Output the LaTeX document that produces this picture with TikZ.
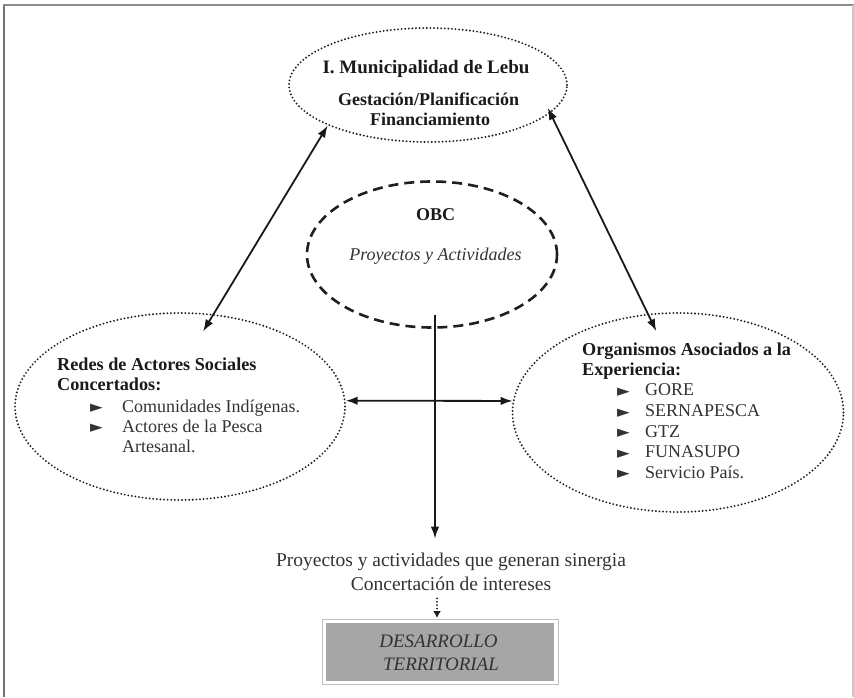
\documentclass[tikz,border=0pt]{standalone}
\usepackage{fontspec}
\setmainfont{Liberation Serif}
\newfontfamily\bulfont{DejaVu Sans}
\usetikzlibrary{arrows.meta,shapes.geometric,calc}
\definecolor{txt}{HTML}{333333}
\definecolor{bld}{HTML}{1A1A1A}
\definecolor{boxgray}{HTML}{A6A6A6}
\newcommand\mybul{{\bulfont\fontsize{16.5}{16}\selectfont\raisebox{-0.5pt}{►}}}
\begin{document}
\begin{tikzpicture}[x=1pt,y=1pt,
  dotline/.style={line width=2.1pt, dash pattern=on 0pt off 3.6pt, line cap=round, draw=black!88},
  oval/.style={ellipse, inner sep=0pt, dotline},
  lbl/.style={inner sep=0pt, anchor=base, text=txt},
  bhead/.style={inner sep=0pt, anchor=base west, text=bld, font=\fontsize{18.2}{20}\selectfont\bfseries},
  item/.style={inner sep=0pt, anchor=base west, text=txt, font=\fontsize{18}{20}\selectfont},
  arr/.style={line width=1.8pt, draw=black!90},
  >={Latex[length=12pt,width=8.5pt]}
]
\useasboundingbox (0,0) rectangle (854,-697);
% frame
\draw[line width=1.6pt, draw=black!55] (4,-697) -- (4,-5);
\draw[line width=2pt, draw=black!45] (3.2,-5) -- (853.5,-5);
\draw[line width=1.5pt, draw=black!22] (852.8,-5) -- (852.8,-697);

% ovals
\node[oval, minimum width=278, minimum height=114] (muni) at (428,-85) {};
\node[ellipse, inner sep=0pt, minimum width=250, minimum height=146, draw=black!88,
      line width=2.6pt, dash pattern=on 10pt off 6pt] (obc) at (432,-254.5) {};
\node[oval, minimum width=330, minimum height=187] (redes) at (180,-406.5) {};
\node[oval, minimum width=331, minimum height=199] (org) at (678,-412.5) {};

% muni texts
\node[lbl, text=bld, font=\fontsize{19}{19}\selectfont\bfseries] (muniA) at (426,-73) {I. Municipalidad de Lebu};
\node[lbl, text=bld, font=\fontsize{18}{18}\selectfont\bfseries] (muniB) at (428.5,-105) {Gestación/Planificación};
\node[lbl, text=bld, font=\fontsize{18}{18}\selectfont\bfseries] (muniC) at (430,-125) {Financiamiento};

% obc texts
\node[lbl, text=bld, font=\fontsize{18}{18}\selectfont\bfseries] (obcA) at (435.5,-220) {OBC};
\node[lbl, font=\fontsize{18}{18}\selectfont\itshape] (obcB) at (435.5,-260) {Proyectos y Actividades};

% redes texts
\node[bhead] (r1) at (57,-370) {Redes de Actores Sociales};
\node[bhead] (r2) at (57,-390) {Concertados:};
\node[item] (r3) at (90,-412) {\makebox[32pt][l]{\mybul}Comunidades Indígenas.};
\node[item] (r4) at (90,-432) {\makebox[32pt][l]{\mybul}Actores de la Pesca};
\node[item] (r5) at (122,-452) {Artesanal.};

% org texts
\node[bhead] (o1) at (582,-355) {Organismos Asociados a la};
\node[bhead] (o2) at (582,-375) {Experiencia:};
\node[item] (o3) at (617,-395.5) {\makebox[28pt][l]{\mybul}GORE};
\node[item] (o4) at (617,-416.5) {\makebox[28pt][l]{\mybul}SERNAPESCA};
\node[item] (o5) at (617,-437) {\makebox[28pt][l]{\mybul}GTZ};
\node[item] (o6) at (617,-457.5) {\makebox[28pt][l]{\mybul}FUNASUPO};
\node[item] (o7) at (617,-478) {\makebox[28pt][l]{\mybul}Servicio País.};

% result texts
\node[lbl, font=\fontsize{19.5}{19.5}\selectfont] (res1) at (451,-566) {Proyectos y actividades que generan sinergia};
\node[lbl, font=\fontsize{19.5}{19.5}\selectfont] (res2) at (451,-590) {Concertación de intereses};

% box
\node[rectangle, fill=boxgray, draw=white, line width=2pt, minimum width=230.6, minimum height=60, inner sep=0pt] (box) at (440,-652) {};
\draw[draw=black!25, line width=0.8pt] ([shift={(-1.6,1.6)}]box.north west) rectangle ([shift={(1.6,-1.6)}]box.south east);
\node[lbl, text=black!80, font=\fontsize{19}{19}\selectfont\itshape] (d1) at (438.5,-647) {DESARROLLO};
\node[lbl, text=black!80, font=\fontsize{19}{19}\selectfont\itshape] (d2) at (441,-670) {TERRITORIAL};

% connectors
\coordinate (vtop) at (435,-315);
\draw[arr,<->, shorten >=-20.5pt] (muni.202) -- (redes.70);
\draw[arr,<->, shorten <=-6pt, shorten >=-19.5pt] (muni.347) -- (org.107);
\draw[arr,<->] (redes.2) -- (org.176);
\draw[arr,->, shorten >=13.6pt] (vtop) -- (vtop |- res1.north);
\draw[line width=2pt, draw=black!88, dash pattern=on 0pt off 3.4pt, line cap=round,
      -{Latex[length=7pt,width=8pt]}, shorten <=8pt, shorten >=3pt]
      ([xshift=-3pt]box.north |- res2.south) -- ([xshift=-3pt]box.north);
\end{tikzpicture}
\end{document}
